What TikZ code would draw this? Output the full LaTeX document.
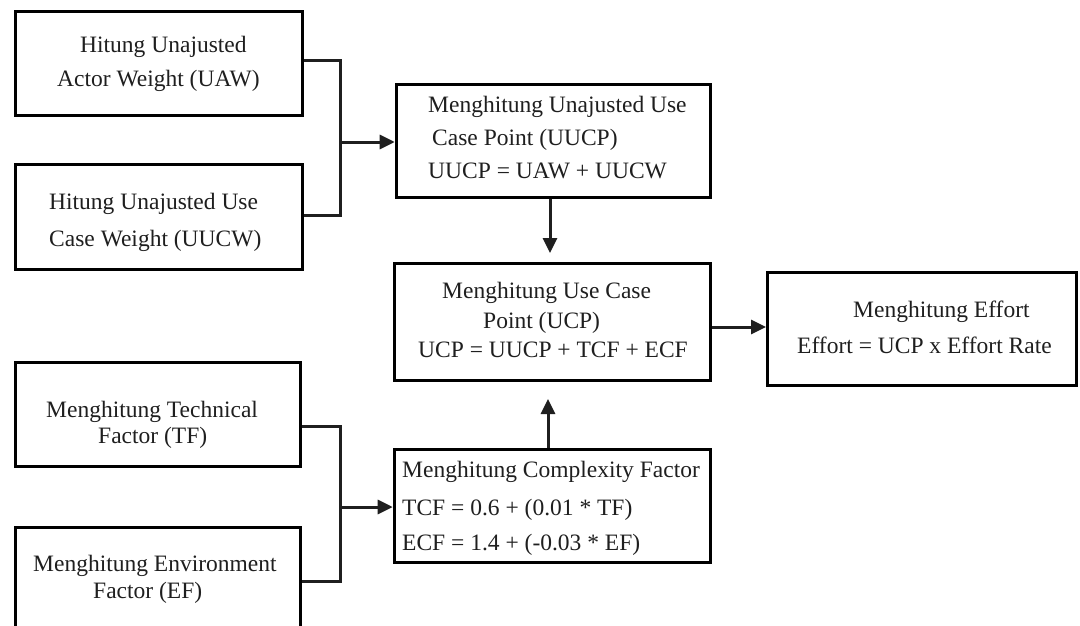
\documentclass[tikz,border=0pt]{standalone}
\usepackage{fontspec}
\setmainfont{Liberation Serif}
\usetikzlibrary{arrows.meta}
\begin{document}
\begin{tikzpicture}[x=1pt,y=-1pt,
  box/.style={draw=black, line width=3.6pt, rectangle, inner sep=0pt},
  txt/.style={anchor=base west, inner sep=0pt, text=black!88, font=\fontsize{23.5}{28}\selectfont},
  conn/.style={draw=black!88, line width=3pt},
  arr/.style={conn, -{Triangle[length=15pt,width=14pt]}}]
\useasboundingbox (0,0) rectangle (1080,626);
\fill[white] (0,0) rectangle (1080,626);
\clip (0,0) rectangle (1080,626);

% boxes
\node[box, minimum width=287pt, minimum height=104pt] (uaw)  at (159,63.5) {};
\node[box, minimum width=287pt, minimum height=105pt] (uucw) at (159,217) {};
\node[box, minimum width=285pt, minimum height=104pt] (tf)   at (158,414.5) {};
\node[box, minimum width=285pt, minimum height=104pt] (ef)   at (158,579.5) {};
\node[box, minimum width=314pt, minimum height=113pt] (uucp) at (553.5,141) {};
\node[box, minimum width=316pt, minimum height=117pt] (ucp)  at (552.5,322) {};
\node[box, minimum width=309pt, minimum height=113pt] (eff)  at (922,329) {};
\node[box, minimum width=316pt, minimum height=113pt] (cf)   at (552.5,506) {};

% texts
\node[txt] (t1a) at (80,53) {Hitung Unajusted};
\node[txt] (t1b) at (57,87) {Actor Weight (UAW)};
\node[txt] (t2a) at (49,209) {Hitung Unajusted Use};
\node[txt] (t2b) at (49,246) {Case Weight (UUCW)};
\node[txt] (t3a) at (46,417) {Menghitung Technical};
\node[txt] (t3b) at (98,443) {Factor (TF)};
\node[txt] (t4a) at (33,571) {Menghitung Environment};
\node[txt] (t4b) at (93,598) {Factor (EF)};
\node[txt] (t5a) at (428,113) {Menghitung Unajusted Use};
\node[txt] (t5b) at (432,146) {Case Point (UUCP)};
\node[txt] (t5c) at (428,178) {UUCP = UAW + UUCW};
\node[txt] (t6a) at (442,298) {Menghitung Use Case};
\node[txt] (t6b) at (483,328) {Point (UCP)};
\node[txt] (t6c) at (418,357) {UCP = UUCP + TCF + ECF};
\node[txt] (t7a) at (853,317) {Menghitung Effort};
\node[txt] (t7b) at (797,353) {Effort = UCP x Effort Rate};
\node[txt] (t8a) at (402,477) {Menghitung Complexity Factor};
\node[txt] (t8b) at (402,515) {TCF = 0.6 + (0.01 * TF)};
\node[txt] (t8c) at (402,550) {ECF = 1.4 + (-0.03 * EF)};

% junctions and arrow tips
\coordinate (j1) at (340,142);
\coordinate (j2) at (340,507);
\coordinate (p1) at (550,253);
\coordinate (p2) at (548,399);
\coordinate (p3) at (766,327);

% connectors
\draw[conn] ([yshift=2.5pt]uaw.east) -| (j1) |- ([yshift=2pt]uucw.east);
\draw[arr] (j1) -- (uucp.west |- j1);
\draw[conn] ([yshift=-11.5pt]tf.east) -| (j2) |- ([yshift=-1.5pt]ef.east);
\draw[arr] (j2) -- (cf.west |- j2);
\draw[arr] (uucp.south -| p1) -- (p1);
\draw[arr] (cf.north -| p2) -- (p2);
\draw[arr] (ucp.east |- p3) -- (p3);
\end{tikzpicture}
\end{document}
